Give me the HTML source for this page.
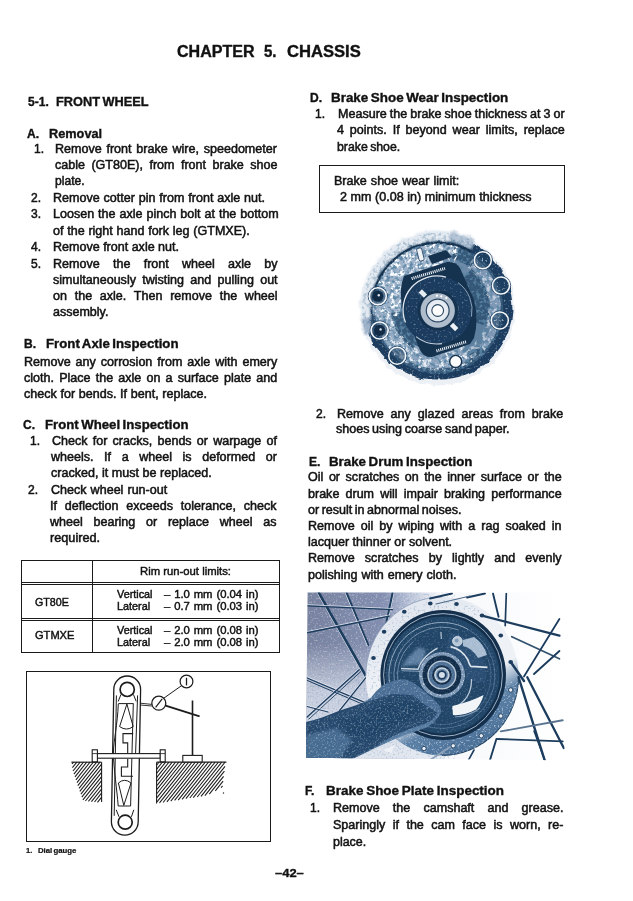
<!DOCTYPE html>
<html><head><meta charset="utf-8"><title>Chapter 5. Chassis</title>
<style>
html,body{margin:0;padding:0;background:#fff;}
body{width:633px;height:901px;position:relative;overflow:hidden;font-family:"Liberation Sans",sans-serif;color:#111;}
.t{position:absolute;white-space:nowrap;line-height:16px;transform-origin:0 0;-webkit-text-stroke:0.5px #141414;}
.j{white-space:normal;text-align:justify;text-align-last:justify;}
.w{text-align:left;}
.bx{position:absolute;border:1.4px solid #1a1a1a;box-sizing:content-box;}
.hl{position:absolute;height:1.2px;background:#1a1a1a;}
.vl{position:absolute;width:1.2px;background:#1a1a1a;}
svg{position:absolute;overflow:visible;}
</style></head><body>
<div class="t" style="left:177.4px;top:44.1px;font-size:16.01px;font-weight:bold;-webkit-text-stroke-width:0.38px;transform:scaleX(1.0020);">CHAPTER</div>
<div class="t" style="left:264.3px;top:44.1px;font-size:16px;font-weight:bold;-webkit-text-stroke-width:0.38px;transform:scaleX(0.9368);">5.</div>
<div class="t" style="left:287.2px;top:44.1px;font-size:16px;font-weight:bold;-webkit-text-stroke-width:0.38px;transform:scaleX(1.0376);">CHASSIS</div>
<div class="t" style="left:27.8px;top:93.5px;font-size:12px;font-weight:bold;-webkit-text-stroke-width:0.35px;transform:scaleX(1.0030);">5-1.</div>
<div class="t" style="left:55.6px;top:93.5px;font-size:12px;font-weight:bold;-webkit-text-stroke-width:0.35px;word-spacing:-1.00px;transform:scaleX(1.0632);">FRONT WHEEL</div>
<div class="t" style="left:27.1px;top:126.1px;font-size:12px;font-weight:bold;-webkit-text-stroke-width:0.35px;transform:scaleX(1.0030);">A.</div>
<div class="t" style="left:48.9px;top:126.1px;font-size:12px;font-weight:bold;-webkit-text-stroke-width:0.35px;transform:scaleX(1.0613);">Removal</div>
<div class="t" style="left:34.4px;top:141.3px;font-size:12px;transform:scaleX(1.0030);">1.</div>
<div class="t" style="left:55.4px;top:141.3px;font-size:12px;word-spacing:1.23px;transform:scaleX(1.0450);">Remove front brake wire, speedometer</div>
<div class="t" style="left:54.8px;top:157.3px;font-size:12px;word-spacing:2.83px;transform:scaleX(1.0450);">cable (GT80E), from front brake shoe</div>
<div class="t" style="left:54.8px;top:173.4px;font-size:12px;transform:scaleX(1.0082);">plate.</div>
<div class="t" style="left:31.3px;top:189.7px;font-size:12px;transform:scaleX(1.0030);">2.</div>
<div class="t" style="left:53.0px;top:189.7px;font-size:12px;word-spacing:0.35px;transform:scaleX(1.0450);">Remove cotter pin from front axle nut.</div>
<div class="t" style="left:31.3px;top:206.3px;font-size:12px;transform:scaleX(1.0030);">3.</div>
<div class="t" style="left:53.0px;top:206.3px;font-size:12px;word-spacing:0.44px;transform:scaleX(1.0450);">Loosen the axle pinch bolt at the bottom</div>
<div class="t" style="left:53.0px;top:222.7px;font-size:12px;word-spacing:0.25px;transform:scaleX(1.0450);">of the right hand fork leg (GTMXE).</div>
<div class="t" style="left:31.3px;top:238.9px;font-size:12px;transform:scaleX(1.0030);">4.</div>
<div class="t" style="left:53.0px;top:238.9px;font-size:12px;word-spacing:-0.05px;transform:scaleX(1.0450);">Remove front axle nut.</div>
<div class="t" style="left:31.3px;top:255.7px;font-size:12px;transform:scaleX(1.0030);">5.</div>
<div class="t" style="left:53.0px;top:255.7px;font-size:12px;word-spacing:9.37px;transform:scaleX(1.0450);">Remove the front wheel axle by</div>
<div class="t" style="left:53.0px;top:271.9px;font-size:12px;word-spacing:2.70px;transform:scaleX(1.0450);">simultaneously twisting and pulling out</div>
<div class="t" style="left:53.0px;top:288.1px;font-size:12px;word-spacing:4.06px;transform:scaleX(1.0450);">on the axle. Then remove the wheel</div>
<div class="t" style="left:52.6px;top:303.9px;font-size:12px;transform:scaleX(1.0425);">assembly.</div>
<div class="t" style="left:23.5px;top:336.3px;font-size:12px;font-weight:bold;-webkit-text-stroke-width:0.35px;transform:scaleX(1.0030);">B.</div>
<div class="t" style="left:45.5px;top:336.3px;font-size:12px;font-weight:bold;-webkit-text-stroke-width:0.35px;word-spacing:-1.00px;transform:scaleX(1.1020);">Front Axle Inspection</div>
<div class="t" style="left:24.3px;top:353.9px;font-size:12px;word-spacing:1.38px;transform:scaleX(1.0450);">Remove any corrosion from axle with emery</div>
<div class="t" style="left:24.3px;top:369.9px;font-size:12px;word-spacing:1.61px;transform:scaleX(1.0450);">cloth. Place the axle on a surface plate and</div>
<div class="t" style="left:24.3px;top:385.7px;font-size:12px;word-spacing:0.20px;transform:scaleX(1.0450);">check for bends. If bent, replace.</div>
<div class="t" style="left:23.3px;top:416.7px;font-size:12px;font-weight:bold;-webkit-text-stroke-width:0.35px;transform:scaleX(1.0030);">C.</div>
<div class="t" style="left:44.5px;top:416.7px;font-size:12px;font-weight:bold;-webkit-text-stroke-width:0.35px;word-spacing:-1.00px;transform:scaleX(1.0982);">Front Wheel Inspection</div>
<div class="t" style="left:30.1px;top:432.9px;font-size:12px;transform:scaleX(1.0030);">1.</div>
<div class="t" style="left:51.6px;top:432.9px;font-size:12px;word-spacing:1.63px;transform:scaleX(1.0450);">Check for cracks, bends or warpage of</div>
<div class="t" style="left:50.6px;top:449.1px;font-size:12px;word-spacing:6.79px;transform:scaleX(1.0450);">wheels. If a wheel is deformed or</div>
<div class="t" style="left:50.6px;top:465.3px;font-size:12px;word-spacing:0.09px;transform:scaleX(1.0450);">cracked, it must be replaced.</div>
<div class="t" style="left:28.3px;top:481.7px;font-size:12px;transform:scaleX(1.0030);">2.</div>
<div class="t" style="left:50.6px;top:481.7px;font-size:12px;word-spacing:0.57px;transform:scaleX(1.0450);">Check wheel run-out</div>
<div class="t" style="left:49.5px;top:497.7px;font-size:12px;word-spacing:4.16px;transform:scaleX(1.0450);">If deflection exceeds tolerance, check</div>
<div class="t" style="left:49.5px;top:513.9px;font-size:12px;word-spacing:6.93px;transform:scaleX(1.0450);">wheel bearing or replace wheel as</div>
<div class="t" style="left:49.5px;top:529.7px;font-size:12px;transform:scaleX(1.0575);">required.</div>
<div class="t" style="left:140.0px;top:563.4px;font-size:10.8px;-webkit-text-stroke-width:0.45px;word-spacing:0.04px;transform:scaleX(1.0450);">Rim run-out limits:</div>
<div class="t" style="left:35.4px;top:594.0px;font-size:10.8px;-webkit-text-stroke-width:0.45px;transform:scaleX(0.9907);">GT80E</div>
<div class="t" style="left:116.8px;top:586.0px;font-size:10.8px;-webkit-text-stroke-width:0.45px;transform:scaleX(1.0030);">Vertical</div>
<div class="t" style="left:164.3px;top:586.0px;font-size:10.8px;-webkit-text-stroke-width:0.45px;word-spacing:0.71px;transform:scaleX(1.0450);">– 1.0 mm (0.04 in)</div>
<div class="t" style="left:116.8px;top:598.1px;font-size:10.8px;-webkit-text-stroke-width:0.45px;transform:scaleX(1.0030);">Lateral</div>
<div class="t" style="left:164.3px;top:598.1px;font-size:10.8px;-webkit-text-stroke-width:0.45px;word-spacing:0.71px;transform:scaleX(1.0450);">– 0.7 mm (0.03 in)</div>
<div class="t" style="left:35.4px;top:627.4px;font-size:10.8px;-webkit-text-stroke-width:0.45px;transform:scaleX(1.0263);">GTMXE</div>
<div class="t" style="left:116.8px;top:621.8px;font-size:10.8px;-webkit-text-stroke-width:0.45px;transform:scaleX(1.0030);">Vertical</div>
<div class="t" style="left:164.3px;top:621.8px;font-size:10.8px;-webkit-text-stroke-width:0.45px;word-spacing:0.71px;transform:scaleX(1.0450);">– 2.0 mm (0.08 in)</div>
<div class="t" style="left:116.8px;top:633.6px;font-size:10.8px;-webkit-text-stroke-width:0.45px;transform:scaleX(1.0030);">Lateral</div>
<div class="t" style="left:164.3px;top:633.6px;font-size:10.8px;-webkit-text-stroke-width:0.45px;word-spacing:0.71px;transform:scaleX(1.0450);">– 2.0 mm (0.08 in)</div>
<div class="t" style="left:25.6px;top:842.8px;font-size:7.5px;font-weight:bold;-webkit-text-stroke-width:0.22px;transform:scaleX(1.0030);">1.</div>
<div class="t" style="left:37.5px;top:842.8px;font-size:7.5px;font-weight:bold;-webkit-text-stroke-width:0.22px;word-spacing:-1.00px;transform:scaleX(1.0369);">Dial gauge</div>
<div class="t" style="left:274.5px;top:865.2px;font-size:11.5px;font-weight:bold;-webkit-text-stroke-width:0.34px;transform:scaleX(1.1253);">–42–</div>
<div class="t" style="left:309.7px;top:89.8px;font-size:12px;font-weight:bold;-webkit-text-stroke-width:0.35px;transform:scaleX(1.0030);">D.</div>
<div class="t" style="left:330.5px;top:89.8px;font-size:12px;font-weight:bold;-webkit-text-stroke-width:0.35px;word-spacing:-1.00px;transform:scaleX(1.1162);">Brake Shoe Wear Inspection</div>
<div class="t" style="left:314.6px;top:105.7px;font-size:12px;transform:scaleX(1.0030);">1.</div>
<div class="t" style="left:337.9px;top:105.7px;font-size:12px;word-spacing:-0.46px;transform:scaleX(1.0450);">Measure the brake shoe thickness at 3 or</div>
<div class="t" style="left:336.8px;top:122.2px;font-size:12px;word-spacing:2.31px;transform:scaleX(1.0450);">4 points. If beyond wear limits, replace</div>
<div class="t" style="left:336.8px;top:138.6px;font-size:12px;word-spacing:-1.00px;transform:scaleX(1.0240);">brake shoe.</div>
<div class="t" style="left:334.2px;top:172.8px;font-size:12px;word-spacing:0.59px;transform:scaleX(1.0450);">Brake shoe wear limit:</div>
<div class="t" style="left:340.0px;top:188.6px;font-size:12px;word-spacing:0.11px;transform:scaleX(1.0450);">2 mm (0.08 in) minimum thickness</div>
<div class="t" style="left:315.8px;top:405.6px;font-size:12px;transform:scaleX(1.0030);">2.</div>
<div class="t" style="left:336.8px;top:405.6px;font-size:12px;word-spacing:3.27px;transform:scaleX(1.0450);">Remove any glazed areas from brake</div>
<div class="t" style="left:335.8px;top:421.2px;font-size:12px;word-spacing:-0.83px;transform:scaleX(1.0450);">shoes using coarse sand paper.</div>
<div class="t" style="left:308.7px;top:453.5px;font-size:12px;font-weight:bold;-webkit-text-stroke-width:0.35px;transform:scaleX(1.0030);">E.</div>
<div class="t" style="left:329.0px;top:453.5px;font-size:12px;font-weight:bold;-webkit-text-stroke-width:0.35px;word-spacing:-1.00px;transform:scaleX(1.1092);">Brake Drum Inspection</div>
<div class="t" style="left:308.4px;top:469.4px;font-size:12px;word-spacing:1.99px;transform:scaleX(1.0450);">Oil or scratches on the inner surface or the</div>
<div class="t" style="left:308.4px;top:485.6px;font-size:12px;word-spacing:2.52px;transform:scaleX(1.0450);">brake drum will impair braking performance</div>
<div class="t" style="left:308.4px;top:501.8px;font-size:12px;word-spacing:-0.94px;transform:scaleX(1.0450);">or result in abnormal noises.</div>
<div class="t" style="left:308.4px;top:518.0px;font-size:12px;word-spacing:2.40px;transform:scaleX(1.0450);">Remove oil by wiping with a rag soaked in</div>
<div class="t" style="left:308.4px;top:534.0px;font-size:12px;word-spacing:-0.06px;transform:scaleX(1.0450);">lacquer thinner or solvent.</div>
<div class="t" style="left:308.4px;top:550.3px;font-size:12px;word-spacing:6.38px;transform:scaleX(1.0450);">Remove scratches by lightly and evenly</div>
<div class="t" style="left:308.4px;top:566.6px;font-size:12px;word-spacing:0.43px;transform:scaleX(1.0450);">polishing with emery cloth.</div>
<div class="t" style="left:304.5px;top:782.8px;font-size:12px;font-weight:bold;-webkit-text-stroke-width:0.35px;transform:scaleX(1.0030);">F.</div>
<div class="t" style="left:326.0px;top:782.8px;font-size:12px;font-weight:bold;-webkit-text-stroke-width:0.35px;word-spacing:-0.82px;transform:scaleX(1.1200);">Brake Shoe Plate Inspection</div>
<div class="t" style="left:310.4px;top:800.3px;font-size:12px;transform:scaleX(1.0030);">1.</div>
<div class="t" style="left:332.6px;top:800.3px;font-size:12px;word-spacing:9.26px;transform:scaleX(1.0450);">Remove the camshaft and grease.</div>
<div class="t" style="left:332.6px;top:817.4px;font-size:12px;word-spacing:3.77px;transform:scaleX(1.0450);">Sparingly if the cam face is worn, re-</div>
<div class="t" style="left:332.6px;top:833.6px;font-size:12px;transform:scaleX(1.0365);">place.</div>
<div class="bx" style="left:20.6px;top:559.8px;width:257.4px;height:91.6px"></div>
<div class="hl" style="left:21px;top:582px;width:258px"></div><div class="hl" style="left:21px;top:584.4px;width:258px;height:.8px"></div>
<div class="hl" style="left:21px;top:617.6px;width:258px"></div><div class="hl" style="left:21px;top:620px;width:258px;height:.8px"></div>
<div class="vl" style="left:91.9px;top:560px;height:92px"></div>
<div class="bx" style="left:318.7px;top:164.9px;width:244.2px;height:46.3px"></div>
<div class="bx" style="left:25.7px;top:670.6px;width:243.2px;height:169.4px"></div>
<svg style="left:0;top:0" width="633" height="901" viewBox="0 0 633 901"><g stroke="#1c1c1c" fill="none" stroke-linecap="butt"><path d="M113.8,689.4 A13.4,13.4 0 0 1 140.6,689.4 L138.2,821.8 A13.4,13.4 0 0 1 111.4,821.8 Z" stroke-width="1.3" fill="none"/><line x1="116.4" y1="695.4" x2="114.2" y2="815.8" stroke-width="1.0"/><line x1="137.6" y1="695.4" x2="135.6" y2="753.0" stroke-width="1.0"/><line x1="133.3" y1="703.5" x2="130.6" y2="806.0" stroke-width="1.0"/><circle cx="127.2" cy="689.4" r="7.1" stroke-width="1.7" fill="none"/><circle cx="125.2" cy="822.2" r="7.0" stroke-width="1.7" fill="none"/><path d="M121.0,694.4 L118.2,701.4" stroke-width="1.0" fill="none"/><path d="M133.4,694.4 L136.2,701.4" stroke-width="1.0" fill="none"/><path d="M119.0,816.8 L116.2,809.8" stroke-width="1.0" fill="none"/><path d="M131.4,816.8 L133.8,809.8" stroke-width="1.0" fill="none"/><line x1="118.3" y1="703.6" x2="133.4" y2="703.6" stroke-width="1.0"/><path d="M126.9,704 L119.6,726.6 Q126.5,731.5 133.2,726.6 Z" stroke-width="1.0" fill="none"/><path d="M118.3,704 C117.5,725 113.6,740 113.4,753 C113.6,768 117,790 118.2,806" stroke-width="1.0" fill="none"/><path d="M133.2,733.6 L123,733.6 L123,742.9 L127.7,742.9 L127.7,753" stroke-width="1.1" fill="none"/><path d="M127.7,759 L127.7,767 L121.4,767 L121.4,776.3 L133,776.3" stroke-width="1.1" fill="none"/><path d="M123.8,805.4 L118.4,783 Q124.5,777.6 131,783 Z" stroke-width="1.0" fill="none"/><line x1="118.2" y1="806.0" x2="130.6" y2="806.0" stroke-width="1.0"/><rect x="97.3" y="753.6" width="63" height="4.6" fill="#fff" stroke-width="1.1"/><rect x="92.2" y="749.8" width="5.2" height="12.2" fill="#fff" stroke-width="1.1"/><rect x="160.2" y="749.8" width="5.0" height="12.2" fill="#fff" stroke-width="1.1"/><line x1="92.2" y1="753.6" x2="97.4" y2="753.6" stroke-width="0.8"/><line x1="160.2" y1="753.6" x2="165.2" y2="753.6" stroke-width="0.8"/><line x1="71.4" y1="762.2" x2="101.6" y2="762.2" stroke-width="1.2"/><line x1="101.6" y1="762.2" x2="101.6" y2="802.0" stroke-width="1.1"/><line x1="156.6" y1="762.2" x2="226.4" y2="762.2" stroke-width="1.2"/><line x1="156.6" y1="762.2" x2="156.6" y2="803.4" stroke-width="1.1"/><line x1="73.5" y1="762.2" x2="72.1" y2="763.9" stroke-width="1.05"/><line x1="76.8" y1="762.2" x2="72.4" y2="767.6" stroke-width="1.05"/><line x1="80.1" y1="762.2" x2="73.0" y2="771.0" stroke-width="1.05"/><line x1="83.4" y1="762.2" x2="73.9" y2="774.1" stroke-width="1.05"/><line x1="86.7" y1="762.2" x2="75.0" y2="776.8" stroke-width="1.05"/><line x1="90.0" y1="762.2" x2="75.9" y2="779.9" stroke-width="1.05"/><line x1="93.3" y1="762.2" x2="77.0" y2="782.6" stroke-width="1.05"/><line x1="96.6" y1="762.2" x2="77.8" y2="785.7" stroke-width="1.05"/><line x1="99.9" y1="762.2" x2="79.0" y2="788.4" stroke-width="1.05"/><line x1="101.6" y1="764.2" x2="79.8" y2="791.4" stroke-width="1.05"/><line x1="101.3" y1="768.7" x2="80.9" y2="794.2" stroke-width="1.05"/><line x1="101.4" y1="772.7" x2="81.8" y2="797.2" stroke-width="1.05"/><line x1="101.4" y1="776.8" x2="82.9" y2="799.9" stroke-width="1.05"/><line x1="101.4" y1="780.9" x2="85.4" y2="801.0" stroke-width="1.05"/><line x1="101.5" y1="785.0" x2="88.4" y2="801.3" stroke-width="1.05"/><line x1="101.5" y1="789.1" x2="91.4" y2="801.6" stroke-width="1.05"/><line x1="101.5" y1="793.1" x2="94.5" y2="802.0" stroke-width="1.05"/><line x1="101.6" y1="797.2" x2="97.5" y2="802.3" stroke-width="1.05"/><line x1="159.0" y1="762.2" x2="156.8" y2="765.0" stroke-width="1.05"/><line x1="162.3" y1="762.2" x2="156.8" y2="769.1" stroke-width="1.05"/><line x1="165.6" y1="762.2" x2="156.8" y2="773.2" stroke-width="1.05"/><line x1="168.9" y1="762.2" x2="156.8" y2="777.3" stroke-width="1.05"/><line x1="172.2" y1="762.2" x2="157.1" y2="781.1" stroke-width="1.05"/><line x1="175.5" y1="762.2" x2="157.1" y2="785.3" stroke-width="1.05"/><line x1="178.8" y1="762.2" x2="157.0" y2="789.4" stroke-width="1.05"/><line x1="182.1" y1="762.2" x2="157.0" y2="793.5" stroke-width="1.05"/><line x1="185.4" y1="762.2" x2="157.0" y2="797.6" stroke-width="1.05"/><line x1="188.7" y1="762.2" x2="157.0" y2="801.8" stroke-width="1.05"/><line x1="192.0" y1="762.2" x2="159.5" y2="802.8" stroke-width="1.05"/><line x1="195.3" y1="762.2" x2="163.1" y2="802.5" stroke-width="1.05"/><line x1="198.6" y1="762.2" x2="166.9" y2="801.8" stroke-width="1.05"/><line x1="201.9" y1="762.2" x2="170.8" y2="801.1" stroke-width="1.05"/><line x1="205.2" y1="762.2" x2="174.6" y2="800.4" stroke-width="1.05"/><line x1="208.5" y1="762.2" x2="178.2" y2="800.1" stroke-width="1.05"/><line x1="211.8" y1="762.2" x2="182.1" y2="799.4" stroke-width="1.05"/><line x1="215.1" y1="762.2" x2="185.9" y2="798.7" stroke-width="1.05"/><line x1="218.4" y1="762.2" x2="189.8" y2="798.0" stroke-width="1.05"/><line x1="221.7" y1="762.2" x2="193.3" y2="797.6" stroke-width="1.05"/><line x1="225.0" y1="762.2" x2="197.2" y2="797.0" stroke-width="1.05"/><line x1="225.0" y1="766.3" x2="201.0" y2="796.3" stroke-width="1.05"/><line x1="224.4" y1="771.1" x2="204.9" y2="795.6" stroke-width="1.05"/><line x1="223.6" y1="776.3" x2="209.3" y2="794.2" stroke-width="1.05"/><line x1="223.1" y1="781.1" x2="215.3" y2="790.8" stroke-width="1.05"/><line x1="222.5" y1="785.9" x2="221.1" y2="787.7" stroke-width="1.05"/><line x1="192.5" y1="700.5" x2="192.5" y2="755.4" stroke-width="1.6"/><rect x="182.8" y="755.4" width="19.4" height="6.6" fill="#fff" stroke-width="1.1"/><line x1="140.4" y1="703.2" x2="151.8" y2="704.4" stroke-width="0.9"/><line x1="140.4" y1="705.0" x2="151.8" y2="706.0" stroke-width="0.9"/><circle cx="158.8" cy="703.2" r="7.0" stroke-width="1.3" fill="#fff"/><line x1="155.6" y1="707.4" x2="162.2" y2="698.8" stroke-width="1.2"/><line x1="165.6" y1="705.6" x2="199.6" y2="716.4" stroke-width="1.8"/><line x1="163.8" y1="698.2" x2="181.6" y2="685.6" stroke-width="1.0"/><circle cx="186.5" cy="681.5" r="6.4" stroke-width="1.2" fill="#fff"/><line x1="186.5" y1="677.8" x2="186.5" y2="685.4" stroke-width="1.3"/><circle cx="223.5" cy="793" r="0.7" fill="#222" stroke="none"/></g></svg>
<svg style="left:350px;top:220px" width="180" height="175" viewBox="350 220 180 175"><defs>
<filter id="p1w" x="-5%" y="-5%" width="110%" height="110%"><feTurbulence type="fractalNoise" baseFrequency="0.22" numOctaves="3" seed="7" result="n"/><feColorMatrix in="n" type="matrix" values="0 0 0 0 0.95  0 0 0 0 0.97  0 0 0 0 1  0 0 0 5 -2.35" result="w"/><feComposite in="w" in2="SourceGraphic" operator="in"/></filter>
<filter id="p1d" x="-5%" y="-5%" width="110%" height="110%"><feTurbulence type="fractalNoise" baseFrequency="0.3" numOctaves="2" seed="21" result="n"/><feColorMatrix in="n" type="matrix" values="0 0 0 0 0.10  0 0 0 0 0.23  0 0 0 0 0.37  0 0 0 5 -2.4" result="w"/><feComposite in="w" in2="SourceGraphic" operator="in"/></filter>
<filter id="p1f" x="-5%" y="-5%" width="110%" height="110%"><feTurbulence type="fractalNoise" baseFrequency="0.5" numOctaves="2" seed="4" result="n"/><feColorMatrix in="n" type="matrix" values="0 0 0 0 0.75  0 0 0 0 0.82  0 0 0 0 0.9  0 0 0 4 -2.3" result="w"/><feComposite in="w" in2="SourceGraphic" operator="in"/></filter>
<filter id="p1rough" x="-5%" y="-5%" width="110%" height="110%"><feTurbulence type="fractalNoise" baseFrequency="0.12" numOctaves="2" seed="5" result="n"/><feDisplacementMap in="SourceGraphic" in2="n" scale="5" xChannelSelector="R" yChannelSelector="G"/></filter>
<filter id="p1soft" x="-10%" y="-10%" width="120%" height="120%"><feGaussianBlur stdDeviation="1.3"/></filter>
<radialGradient id="p1hub" cx="50%" cy="50%" r="50%"><stop offset="0" stop-color="#fff"/><stop offset="1" stop-color="#dfe6ee"/></radialGradient>
<clipPath id="p1clip"><circle cx="438" cy="308.6" r="75.5"/></clipPath>
</defs><circle cx="438.0" cy="308.6" r="77" fill="#dfe7f0" opacity="0.55" filter="url(#p1rough)"/><g filter="url(#p1rough)"><path d="M363.5,308.6 A74.5,74.5 0 0 1 512.5,308.6 A74.5,71 0 0 1 363.5,308.6 Z" fill="#1b3c5e"/><g filter="url(#p1soft)"><path d="M360.8,319.5 A78,78 0 0 1 451.5,231.8 L449.7,242.1 A67.5,67.5 0 0 0 371.2,318.0 Z" fill="#e2e9f1"/><path d="M451.5,231.8 A78,78 0 0 1 474.6,239.7 L469.9,248.6 A68,68 0 0 0 449.8,241.6 Z" fill="#b4c4d6"/><path d="M364.7,335.3 A78,78 0 0 1 360.8,319.5 L370.7,318.1 A68,68 0 0 0 374.1,331.9 Z" fill="#9fb3ca"/></g></g><path d="M364.6,328.3 A76,76 0 0 1 476.0,242.8 L471.5,250.6 A67,67 0 0 0 373.3,325.9 Z" fill="#1b3c5e" filter="url(#p1d)" opacity="0.35"/><g clip-path="url(#p1clip)"><path d="M503.0,308.6 A65,65 0 1 1 503.0,308.5 L474.0,308.5 A36,36 0 1 0 474.0,308.6 Z" fill="#365878"/><path d="M372.7,314.3 A65.5,65.5 0 0 1 455.0,245.3 L447.6,272.9 A37,37 0 0 0 401.1,311.8 Z" fill="#9fb4cb"/><path d="M406.5,363.2 A63,63 0 0 1 375.0,310.8 L391.0,310.2 A47,47 0 0 0 414.5,349.3 Z" fill="#93aac3"/><path d="M469.8,359.5 A60,60 0 0 1 406.2,359.5 L415.2,345.1 A43,43 0 0 0 460.8,345.1 Z" fill="#8ca3be"/><path d="M476.5,259.3 A62.5,62.5 0 0 1 484.4,350.4 L476.6,343.4 A52,52 0 0 0 470.0,267.6 Z" fill="#7f98b5"/><path d="M490.6,327.8 A56,56 0 0 1 466.0,357.1 L458.0,343.2 A40,40 0 0 0 475.6,322.3 Z" fill="#5f7f9f"/><path d="M442.5,256.8 A52,52 0 0 1 471.4,268.8 L462.4,279.5 A38,38 0 0 0 441.3,270.7 Z" fill="#6d8aa8"/><path d="M373.3,291.3 A67,67 0 0 1 471.5,250.6 L470.2,252.7 A64.5,64.5 0 0 0 375.7,291.9 Z" fill="#15324f"/><path d="M374.0,319.9 A65,65 0 0 1 460.2,247.5 L451.0,272.9 A38,38 0 0 0 400.6,315.2 Z" fill="#fff" filter="url(#p1w)"/><path d="M474.1,360.2 A63,63 0 0 1 376.0,319.5 L393.7,316.4 A45,45 0 0 0 463.8,345.5 Z" fill="#fff" filter="url(#p1w)" opacity="0.85"/><path d="M474.1,257.0 A63,63 0 0 1 474.1,360.2 L466.7,349.6 A50,50 0 0 0 466.7,267.6 Z" fill="#fff" filter="url(#p1w)" opacity="0.55"/><path d="M503.5,308.6 A65.5,65.5 0 1 1 503.5,308.5 L474.0,308.5 A36,36 0 1 0 474.0,308.6 Z" fill="#fff" filter="url(#p1d)" opacity="0.9"/><path d="M513.0,308.6 A75,75 0 1 1 513.0,308.5 L504.0,308.5 A66,66 0 1 0 504.0,308.6 Z" fill="#fff" filter="url(#p1f)" opacity="0.45"/><path d="M404,276 L447,262 Q456,261 460,268 L474,300 Q479,320 474,338 L470,344 L432,357 Q424,358 420,350 L402,306 Q399,288 404,276 Z" fill="#15324f"/><circle cx="438.0" cy="310.1" r="34" fill="#1b3c5e"/><path d="M405.5,322.6 A34,34 0 0 1 446.0,277.1" fill="none" stroke="#dfe7ef" stroke-width="1.3"/><path d="M458.0,282.6 A34,34 0 0 1 471.5,316.6" fill="none" stroke="#8fa5bd" stroke-width="1.0"/><path d="M416.0,336.6 A34,34 0 0 0 442.0,343.6" fill="none" stroke="#c5d1de" stroke-width="1.1"/><circle cx="438.0" cy="310.1" r="33" fill="#fff" filter="url(#p1f)" opacity="0.35"/><line x1="411.6" y1="278.6" x2="445" y2="268.4" stroke="#e8eef4" stroke-width="3" stroke-dasharray="1.1 0.9"/><line x1="436.4" y1="351" x2="466" y2="341.8" stroke="#e8eef4" stroke-width="3" stroke-dasharray="1.1 0.9"/><rect x="417.8" y="248" width="5.2" height="13" rx="1.5" fill="#eef2f6" stroke="#1b3c5e" stroke-width="0.8" transform="rotate(-14 420.4 254.5)"/><path d="M428,256 L446,250 L452,257 L432,264 Z" fill="#15324f"/><circle cx="437.7" cy="310.5" r="20" fill="#15324f"/><circle cx="437.7" cy="310.5" r="17.2" fill="#aebccb"/><circle cx="437.7" cy="310.5" r="12" fill="#26435f"/><circle cx="437.7" cy="310.5" r="10.8" fill="url(#p1hub)"/><circle cx="437.7" cy="310.5" r="6.4" fill="#2a4763"/><circle cx="437.7" cy="310.5" r="5.3" fill="#fdfdfe"/><circle cx="436.9" cy="295.7" r="1.1" fill="#fff"/><circle cx="441.3" cy="296.3" r="1.1" fill="#fff"/><circle cx="446.3" cy="297.9" r="1.1" fill="#fff"/><rect x="419.2" y="291.2" width="7.4" height="4.6" fill="#e6ecf2" transform="rotate(45 422.9 293.5)"/><rect x="450.4" y="324.6" width="7.4" height="4.6" fill="#eef2f6" transform="rotate(45 454.1 326.9)"/><circle cx="455.7" cy="361.4" r="6.0" fill="#fbfcfd" stroke="#15324f" stroke-width="1.4"/><line x1="455.6" y1="367" x2="456.2" y2="375" stroke="#15324f" stroke-width="1"/></g><circle cx="482.8" cy="260.2" r="9.6" fill="none" stroke="#1b3c5e" stroke-width="0.9"/><circle cx="482.8" cy="260.2" r="8.5" fill="#1d3f61" fill-opacity="0.55" stroke="#f4f7fa" stroke-width="1.5"/><circle cx="482.3" cy="260.7" r="5.5" fill="#fff" filter="url(#p1f)" opacity="0.8"/><circle cx="501" cy="285.6" r="9.6" fill="none" stroke="#1b3c5e" stroke-width="0.9"/><circle cx="501" cy="285.6" r="8.5" fill="#1d3f61" fill-opacity="0.55" stroke="#f4f7fa" stroke-width="1.5"/><circle cx="500.5" cy="286.1" r="5.5" fill="#fff" filter="url(#p1f)" opacity="0.8"/><circle cx="499.8" cy="320.4" r="9.6" fill="none" stroke="#1b3c5e" stroke-width="0.9"/><circle cx="499.8" cy="320.4" r="8.5" fill="#1d3f61" fill-opacity="0.55" stroke="#f4f7fa" stroke-width="1.5"/><circle cx="499.3" cy="320.9" r="5.5" fill="#fff" filter="url(#p1f)" opacity="0.8"/><circle cx="377.8" cy="296.2" r="9.6" fill="none" stroke="#1b3c5e" stroke-width="0.9"/><circle cx="377.8" cy="296.2" r="8.5" fill="#1d3f61" fill-opacity="0.55" stroke="#f4f7fa" stroke-width="1.5"/><circle cx="377.3" cy="296.7" r="5.5" fill="#fff" filter="url(#p1f)" opacity="0.8"/><circle cx="379.6" cy="330.4" r="9.6" fill="none" stroke="#1b3c5e" stroke-width="0.9"/><circle cx="379.6" cy="330.4" r="8.5" fill="#1d3f61" fill-opacity="0.55" stroke="#f4f7fa" stroke-width="1.5"/><circle cx="379.1" cy="330.9" r="5.5" fill="#fff" filter="url(#p1f)" opacity="0.8"/><circle cx="397.2" cy="355.8" r="9.6" fill="none" stroke="#1b3c5e" stroke-width="0.9"/><circle cx="397.2" cy="355.8" r="8.5" fill="#1d3f61" fill-opacity="0.55" stroke="#f4f7fa" stroke-width="1.5"/><circle cx="396.7" cy="356.3" r="5.5" fill="#fff" filter="url(#p1f)" opacity="0.8"/><circle cx="377.8" cy="296.2" r="5.6" fill="#122c47"/><circle cx="378.8" cy="295.2" r="1.2" fill="#dfe7ef"/><circle cx="379.6" cy="330.4" r="5.6" fill="#122c47"/><circle cx="380.6" cy="329.4" r="1.2" fill="#dfe7ef"/></svg>
<svg style="left:305.0px;top:592.0px" width="260.0" height="170.0" viewBox="305.0 592.0 260.0 170.0"><defs>
<clipPath id="p2clip"><path d="M307.6,592.4 L564.5,592.4 L564.5,760.2 L306,757.8 Z"/></clipPath>
<clipPath id="p2drum"><ellipse cx="443" cy="675" rx="60" ry="62"/></clipPath>
<linearGradient id="p2bg" x1="0" y1="0" x2="1" y2="0"><stop offset="0" stop-color="#78829f"/><stop offset="0.30" stop-color="#848eb0"/><stop offset="0.40" stop-color="#b9c2d8"/><stop offset="0.52" stop-color="#f5f7fa"/><stop offset="1" stop-color="#ffffff"/></linearGradient>
<linearGradient id="p2bg2" x1="0" y1="0" x2="0" y2="1"><stop offset="0" stop-color="#dfe5ee" stop-opacity="0"/><stop offset="0.30" stop-color="#dfe5ee" stop-opacity="0"/><stop offset="0.58" stop-color="#d5dcea" stop-opacity="0.8"/><stop offset="1" stop-color="#e6ebf2" stop-opacity="0.95"/></linearGradient>
<linearGradient id="p2fl" gradientUnits="userSpaceOnUse" x1="412.0" y1="615.5" x2="482.0" y2="745.5"><stop offset="0" stop-color="#e3e8f0"/><stop offset="0.3" stop-color="#eef1f6"/><stop offset="0.58" stop-color="#eef2f6"/><stop offset="0.67" stop-color="#a9bcd2"/><stop offset="0.75" stop-color="#5a7fa5"/><stop offset="1" stop-color="#4a7098"/></linearGradient>
<filter id="p2w" x="0" y="0" width="100%" height="100%"><feTurbulence type="fractalNoise" baseFrequency="0.55" numOctaves="2" seed="11" result="n"/><feColorMatrix in="n" type="matrix" values="0 0 0 0 0.93  0 0 0 0 0.95  0 0 0 0 0.98  0 0 0 4.5 -2.45" result="w"/><feComposite in="w" in2="SourceGraphic" operator="in"/></filter>
<filter id="p2d" x="0" y="0" width="100%" height="100%"><feTurbulence type="fractalNoise" baseFrequency="0.5" numOctaves="2" seed="29" result="n"/><feColorMatrix in="n" type="matrix" values="0 0 0 0 0.12  0 0 0 0 0.25  0 0 0 0 0.40  0 0 0 4.5 -2.45" result="w"/><feComposite in="w" in2="SourceGraphic" operator="in"/></filter>
<filter id="p2blur"><feGaussianBlur stdDeviation="1.6"/></filter>
<filter id="p2blur2"><feGaussianBlur stdDeviation="0.6"/></filter>
</defs><g clip-path="url(#p2clip)"><rect x="305.0" y="592.0" width="260.0" height="170.0" fill="url(#p2bg)"/><rect x="305.0" y="592.0" width="140" height="170.0" fill="url(#p2bg2)"/><rect x="305.0" y="592.0" width="150" height="170.0" fill="#fff" filter="url(#p2w)" opacity="0.32"/><rect x="305.0" y="592.0" width="150" height="170.0" fill="#fff" filter="url(#p2d)" opacity="0.30"/><line x1="318.1" y1="593.7" x2="370.6" y2="686.5" stroke="#e3e8f0" stroke-width="1.56" stroke-linecap="round" /><line x1="319.0" y1="593.2" x2="371.5" y2="686.0" stroke="#1d3d5f" stroke-width="2.6" stroke-linecap="round" /><line x1="345.8" y1="593.7" x2="367.5" y2="645.5" stroke="#e3e8f0" stroke-width="1.14" stroke-linecap="round" /><line x1="346.7" y1="593.2" x2="368.4" y2="645.0" stroke="#1d3d5f" stroke-width="1.9" stroke-linecap="round" /><line x1="393.5" y1="593.5" x2="385.6" y2="631.4" stroke="#e3e8f0" stroke-width="1.2" stroke-linecap="round" /><line x1="392.5" y1="593.2" x2="384.6" y2="631.1" stroke="#1d3d5f" stroke-width="2.0" stroke-linecap="round" /><line x1="307.2" y1="604.7" x2="392.5" y2="608.6" stroke="#e3e8f0" stroke-width="0.8" stroke-linecap="round" /><line x1="307.2" y1="605.8" x2="392.5" y2="609.7" stroke="#1d3d5f" stroke-width="1.3" stroke-linecap="round" /><line x1="307.0" y1="631.6" x2="389.1" y2="615.0" stroke="#e3e8f0" stroke-width="0.84" stroke-linecap="round" /><line x1="307.2" y1="632.7" x2="389.3" y2="616.1" stroke="#1d3d5f" stroke-width="1.4" stroke-linecap="round" /><circle cx="384.4" cy="631.6" r="2.3" fill="#1d3d5f"/><line x1="307.5" y1="676.9" x2="369.1" y2="703.0" stroke="#e3e8f0" stroke-width="0.8" stroke-linecap="round" /><line x1="307.1" y1="678.0" x2="368.7" y2="704.1" stroke="#1d3d5f" stroke-width="1.3" stroke-linecap="round" /><line x1="307.1" y1="680.4" x2="366.0" y2="705.6" stroke="#1d3d5f" stroke-width="1.0" stroke-linecap="round" /><line x1="358.4" y1="669.0" x2="306.3" y2="716.3" stroke="#e3e8f0" stroke-width="0.8" stroke-linecap="round" /><line x1="359.2" y1="669.8" x2="307.1" y2="717.1" stroke="#1d3d5f" stroke-width="1.3" stroke-linecap="round" /><line x1="361.0" y1="671.4" x2="309.0" y2="719.0" stroke="#1d3d5f" stroke-width="0.9" stroke-linecap="round" /><line x1="366.5" y1="675.3" x2="338.1" y2="710.8" stroke="#e3e8f0" stroke-width="0.8" stroke-linecap="round" /><line x1="367.5" y1="675.7" x2="339.1" y2="711.2" stroke="#1d3d5f" stroke-width="1.3" stroke-linecap="round" /><line x1="307.0" y1="705.5" x2="328.0" y2="711.0" stroke="#e3e8f0" stroke-width="0.8" stroke-linecap="round" /><line x1="307.0" y1="706.5" x2="328.0" y2="712.0" stroke="#1d3d5f" stroke-width="1.0" stroke-linecap="round" /><circle cx="373.4" cy="685.4" r="2.4" fill="#1d3d5f"/><ellipse cx="442.2" cy="676.2" rx="76.4" ry="79.2" fill="url(#p2fl)"/><path d="M442.2,597 A76.4,79.2 0 0 0 365.8,676.2" fill="none" stroke="#8c9dba" stroke-width="0.8"/><path d="M518.6,676.2 A76.4,79.2 0 0 1 442.2,755.4" fill="none" stroke="#244566" stroke-width="1.1"/><path d="M521.7,682.5 A80,80 0 0 1 396.1,741.0 L406.4,726.3 A62,62 0 0 0 503.8,680.9 Z" fill="#fff" filter="url(#p2w)" opacity="0.5"/><path d="M404.0,741.3 A76,76 0 0 1 480.0,609.7 L473.0,621.8 A62,62 0 0 0 411.0,729.2 Z" fill="#1b3c5e" filter="url(#p2d)" opacity="0.35"/><line x1="482.0" y1="615.6" x2="559.4" y2="635.6" stroke="#1d3d5f" stroke-width="2.3" stroke-linecap="round" /><line x1="511.8" y1="636.7" x2="559.4" y2="658.8" stroke="#33526f" stroke-width="1.8" stroke-linecap="round" /><line x1="559.4" y1="619.0" x2="524.0" y2="676.5" stroke="#1d3d5f" stroke-width="1.8" stroke-linecap="round" /><line x1="559.4" y1="651.0" x2="534.0" y2="674.0" stroke="#1d3d5f" stroke-width="1.9" stroke-linecap="round" /><line x1="493.0" y1="593.5" x2="498.6" y2="616.8" stroke="#1d3d5f" stroke-width="1.9" stroke-linecap="round" /><line x1="506.3" y1="593.5" x2="505.2" y2="625.6" stroke="#1d3d5f" stroke-width="1.7" stroke-linecap="round" /><line x1="510.7" y1="662.0" x2="524.0" y2="681.0" stroke="#1d3d5f" stroke-width="2.5" stroke-linecap="round" /><line x1="518.5" y1="677.2" x2="545.0" y2="761.3" stroke="#1d3d5f" stroke-width="2.4" stroke-linecap="round" /><line x1="527.3" y1="677.2" x2="563.8" y2="748.0" stroke="#1d3d5f" stroke-width="2.3" stroke-linecap="round" /><line x1="500.8" y1="731.4" x2="562.7" y2="720.3" stroke="#5b7591" stroke-width="1.9" stroke-linecap="round" /><line x1="497.5" y1="739.0" x2="562.7" y2="741.4" stroke="#1d3d5f" stroke-width="1.8" stroke-linecap="round" /><line x1="496.4" y1="739.0" x2="489.7" y2="761.0" stroke="#1d3d5f" stroke-width="1.9" stroke-linecap="round" /><line x1="534.0" y1="731.0" x2="545.0" y2="761.0" stroke="#1d3d5f" stroke-width="1.5" stroke-linecap="round" /><line x1="452.0" y1="745.8" x2="430.0" y2="760.0" stroke="#8ea3bb" stroke-width="1.8" stroke-linecap="round" /><line x1="474.0" y1="750.0" x2="468.0" y2="761.0" stroke="#1d3d5f" stroke-width="1.6" stroke-linecap="round" /><line x1="430.0" y1="598.5" x2="452.0" y2="593.5" stroke="#1d3d5f" stroke-width="1.9" stroke-linecap="round" /><line x1="467.0" y1="597.5" x2="485.0" y2="593.5" stroke="#1d3d5f" stroke-width="1.9" stroke-linecap="round" /><line x1="436.0" y1="604.0" x2="470.0" y2="596.0" stroke="#4f6c8a" stroke-width="1.2" stroke-linecap="round" /><ellipse cx="373.5" cy="657.9" rx="2.3" ry="2.0" fill="#1d3d5f"/><ellipse cx="384.1" cy="631.8" rx="2.3" ry="2.0" fill="#1d3d5f"/><ellipse cx="404.3" cy="611.7" rx="2.3" ry="2.0" fill="#1d3d5f"/><ellipse cx="430.3" cy="603.4" rx="2.3" ry="2.0" fill="#1d3d5f"/><ellipse cx="456.5" cy="604.0" rx="2.3" ry="2.0" fill="#1d3d5f"/><ellipse cx="482.0" cy="615.6" rx="2.3" ry="2.0" fill="#1d3d5f"/><ellipse cx="500.8" cy="635.6" rx="2.3" ry="2.0" fill="#1d3d5f"/><ellipse cx="510.7" cy="662.0" rx="2.3" ry="2.0" fill="#1d3d5f"/><circle cx="510.7" cy="690.0" r="2.2" fill="#e8eef4" stroke="#1b3c5e" stroke-width="0.9"/><circle cx="500.8" cy="716.0" r="2.2" fill="#e8eef4" stroke="#1b3c5e" stroke-width="0.9"/><circle cx="481.3" cy="735.8" r="2.2" fill="#e8eef4" stroke="#1b3c5e" stroke-width="0.9"/><circle cx="453.2" cy="745.8" r="2.2" fill="#e8eef4" stroke="#1b3c5e" stroke-width="0.9"/><circle cx="424.0" cy="748.5" r="2.2" fill="#e8eef4" stroke="#1b3c5e" stroke-width="0.9"/><ellipse cx="443.2" cy="675" rx="62.8" ry="65" fill="#142f4b"/><ellipse cx="443" cy="675" rx="59.4" ry="61.4" fill="none" stroke="#9fb3c9" stroke-width="1.0"/><ellipse cx="442.6" cy="675.2" rx="57" ry="58.6" fill="#214668"/><path d="M423.9,725.3 A53,53 0 1 1 468.5,629.6" fill="none" stroke="#9db1c8" stroke-width="0.9"/><path d="M468.5,629.6 A53,53 0 0 1 423.9,725.3" fill="none" stroke="#56779a" stroke-width="0.8"/><path d="M433.6,723.3 A48.5,48.5 0 1 1 458.6,629.9" fill="none" stroke="#88a0ba" stroke-width="0.8"/><path d="M403.5,697.8 A44.5,44.5 0 0 1 413.4,641.4" fill="none" stroke="#7d96b2" stroke-width="0.8"/><path d="M488.0,658.7 A49,49 0 0 1 433.5,723.8" fill="none" stroke="#4b6d91" stroke-width="0.8"/><g clip-path="url(#p2drum)"><path d="M449.6,632.2 A44,44 0 0 1 485.3,683.1 L465.6,679.7 A24,24 0 0 0 446.2,651.9 Z" fill="#2c5075" opacity="0.9"/><path d="M463,640 L474,637 Q484,644 487,655 L478,658 Q472,648 463,646 Z" fill="#a9bdd2" filter="url(#p2blur2)"/><path d="M401.9,666.2 L423.2,663.8 L425.6,649.6 L418.5,647.2 L406.6,659.1 Z" fill="#6f8fb1" opacity="0.8" filter="url(#p2blur)"/><circle cx="457.4" cy="641.2" r="4.8" fill="#b9c8d8" stroke="#dfe7ef" stroke-width="0.8"/><circle cx="456.6" cy="640.6" r="2" fill="#7f99b5"/><path d="M401,668.4 L418,669.2 Q421,660 430,653 Q436,648.6 437.5,648.2" fill="none" stroke="#c7d3e0" stroke-width="1.5"/><path d="M401.5,670.6 L419,671.4" stroke="#6f8cab" stroke-width="1.2"/><path d="M450.5,646.6 Q462,649 468,660 Q469.5,665.4 471,666.4 L487.5,667.4" fill="none" stroke="#dbe4ec" stroke-width="1.6"/><path d="M471.5,679 Q472,700 452,709" fill="none" stroke="#b4c4d5" stroke-width="1.3"/><line x1="441" y1="632" x2="441.3" y2="639" stroke="#cfd9e4" stroke-width="1"/><path d="M452.3,706 Q470,702 483.6,695 Q481,704 476,709.4 Q464,716 453,715 Z" fill="#f2f5f8"/><path d="M455,717 Q470,716 480,708" fill="none" stroke="#7f99b5" stroke-width="1.2"/><circle cx="441.9" cy="675.0" r="23" fill="#7a96b4"/><circle cx="441.9" cy="675.0" r="23" fill="#fff" filter="url(#p2w)" opacity="0.5"/><circle cx="441.9" cy="675.0" r="19.4" fill="#142f4b"/><circle cx="441.9" cy="675.0" r="14.6" fill="#b8c7d7"/><circle cx="441.9" cy="675.0" r="13.2" fill="#4e7095"/><circle cx="441.9" cy="675.0" r="9.8" fill="#142f4b"/><circle cx="441.9" cy="675.0" r="7.8" fill="#c5d2df"/><circle cx="441.9" cy="675.0" r="6.2" fill="#7a95b3"/><circle cx="441.9" cy="675.0" r="4.8" fill="#1b3c5e"/><circle cx="441.9" cy="675.0" r="3" fill="#d5dee8"/><circle cx="442.0" cy="675.5" r="57" fill="#fff" filter="url(#p2w)" opacity="0.16"/></g><path d="M303,722.4 L321,718.6 L335.5,714.8 L350,709.4 L361.6,704.1 L371,697.6 L376,691.5 L383,685 L391.2,681.6 Q398,679 404.3,679.2 Q412,681 418.5,686.5 L432.7,698.4 Q442,706 441,712.5 Q437,721 428.6,726.2 L414,731 L399.5,736 L386,743 L373,749 L362,754.6 L352,759 L303,759 Z" fill="#4a6e95"/><path d="M303,723.6 L322,717.4 L340,710.6 L366,701.9 L392,694.1 L413,695 L424,704 L437,712.6 Q434,721 426,725.4 L409.5,730 L399.5,735 L386,742 L373,748.4 L362,754 L352,759 L303,759 Z" fill="#26496d"/><path d="M303,736 L336,728 L352,740 L340,759 L303,759 Z" fill="#5d82a8" opacity="0.6" filter="url(#p2blur)"/><path d="M376,747 Q392,734 424,724 Q432,721 437,716 L428,727 L400,737 Z" fill="#5a7ea3" opacity="0.9"/><path d="M340,722 Q372,708 400,698 Q416,702 428,713 Q400,722 374,737 Q352,744 340,722 Z" fill="#1f4063" opacity="0.6" filter="url(#p2blur)"/><path d="M303,722.4 L321,718.6 L335.5,714.8 L350,709.4 L361.6,704.1 L371,697.6 L376,691.5 L383,685 L391.2,681.6 Q398,679 404.3,679.2 Q412,681 418.5,686.5 L432.7,698.4 Q442,706 441,712.5 Q437,721 428.6,726.2 L414,731 L399.5,736 L386,743 L373,749 L362,754.6 L352,759 L303,759 Z" fill="#fff" filter="url(#p2w)" opacity="0.30"/><path d="M303,722.4 L321,718.6 L335.5,714.8 L350,709.4 L361.6,704.1 L371,697.6 L376,691.5 L383,685 L391.2,681.6 Q398,679 404.3,679.2 Q412,681 418.5,686.5 L432.7,698.4 Q442,706 441,712.5 Q437,721 428.6,726.2 L414,731 L399.5,736 L386,743 L373,749 L362,754.6 L352,759 L303,759 Z" fill="#fff" filter="url(#p2d)" opacity="0.5"/><path d="M383,750 L395,745 L391,753 Z" fill="#eef2f6"/><path d="M360,757 L399,737 L430,727 L444,760 L440,763 L352,763 Z" fill="#d5deea" opacity="0.0"/></g></svg>

</body></html>
